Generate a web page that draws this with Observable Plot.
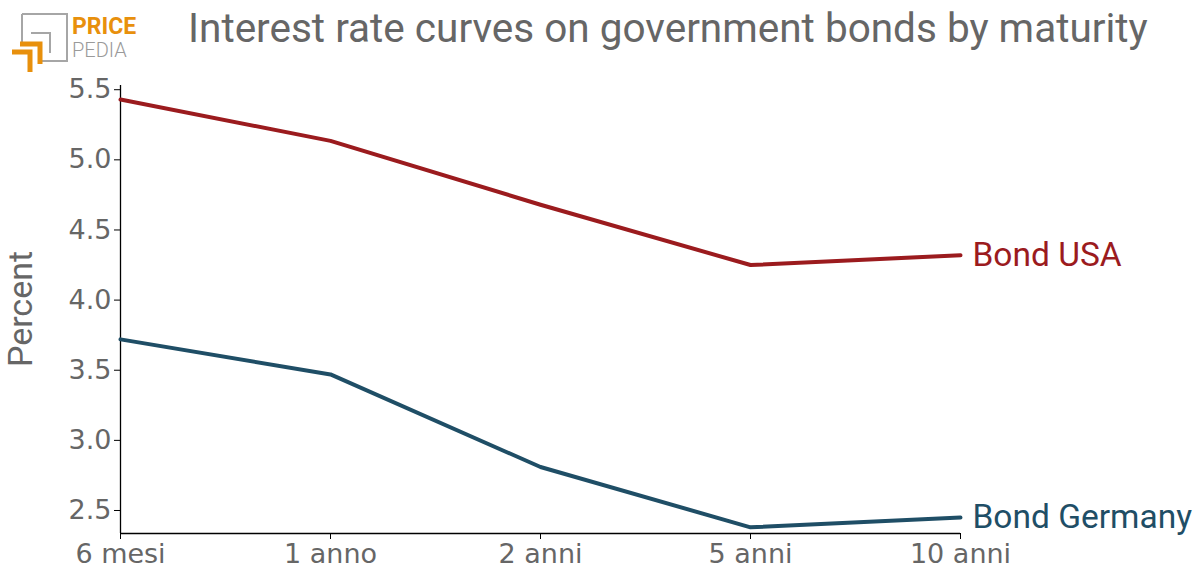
<!DOCTYPE html>
<html>
<head>
<meta charset="utf-8">
<script src="https://cdn.jsdelivr.net/npm/d3@7"></script>
<script src="https://cdn.jsdelivr.net/npm/@observablehq/plot@0.6"></script>
<style>
  html, body { margin: 0; padding: 0; background: #fff; }
  #wrap { position: relative; width: 1196px; height: 587px; overflow: hidden; }
  #title { position: absolute; left: 188px; top: 4px; font-family: Roboto, sans-serif; font-weight: 400; font-size: 40.5px; line-height: 48px; color: #666; white-space: nowrap; }
  #ylabel { position: absolute; left: 20px; top: 309px; font-family: Roboto, sans-serif; font-size: 34px; line-height: 1; color: #666; white-space: nowrap; transform: translate(-50%, -50%) rotate(-90deg); }
  #logo { position: absolute; left: 0; top: 0; }
  #chart { position: absolute; left: 0; top: 0; }
</style>
</head>
<body>
<div id="wrap">
  <div id="chart"></div>
  <svg id="logo" width="150" height="80">
    <polyline points="22,14 67,14 67,61 42,61" fill="none" stroke="#a6a6a6" stroke-width="2"/>
    <polyline points="22,14 22,42" fill="none" stroke="#a6a6a6" stroke-width="2"/>
    <polyline points="31,33 50,33 50,53" fill="none" stroke="#a6a6a6" stroke-width="2"/>
    <polyline points="12,52 30,52 30,72" fill="none" stroke="#e8900c" stroke-width="5"/>
    <polyline points="20,44 40,44 40,64" fill="none" stroke="#e8900c" stroke-width="5"/>
    <text x="72" y="33.5" font-family="Roboto, sans-serif" font-weight="bold" font-size="23" fill="#e8900c">PRICE</text>
    <text x="72" y="57" font-family="Roboto, sans-serif" font-weight="300" font-size="20" fill="#9a9a9a">PEDIA</text>
  </svg>
  <div id="title">Interest rate curves on government bonds by maturity</div>
  <div id="ylabel">Percent</div>
</div>
<script>
const maturities = ["6 mesi", "1 anno", "2 anni", "5 anni", "10 anni"];
const bondUSA = [5.43, 5.135, 4.68, 4.25, 4.32];
const bondGermany = [3.72, 3.47, 2.81, 2.38, 2.45];
const seriesNames = ["Bond USA", "Bond Germany"];
const seriesColors = ["#9b1b1e", "#1f4e66"];
const yTicks = [2.5, 3.0, 3.5, 4.0, 4.5, 5.0, 5.5];

const rows = [];
[bondUSA, bondGermany].forEach((vals, si) => {
  vals.forEach((v, i) => rows.push({series: seriesNames[si], maturity: maturities[i], value: v}));
});
const lastRows = rows.filter(d => d.maturity === maturities[maturities.length - 1]);

const yMin = 2.336, yMax = 5.53;

const plot = Plot.plot({
  width: 1196,
  height: 587,
  marginLeft: 120,
  marginRight: 236,
  marginTop: 85,
  marginBottom: 54,
  style: {fontFamily: "DejaVu Sans, sans-serif", background: "transparent", overflow: "visible"},
  x: {type: "point", domain: maturities, padding: 0},
  y: {domain: [yMin, yMax]},
  color: {domain: seriesNames, range: seriesColors},
  marks: [
    Plot.axisY({ticks: yTicks, tickFormat: d3.format(".1f"), tickSize: 6, tickPadding: 3, fontSize: 27, stroke: "black", fill: "#666", label: null}),
    Plot.axisX({tickSize: 6, tickPadding: 4, fontSize: 27, stroke: "black", fill: "#666", label: null}),
    Plot.ruleX([maturities[0]], {stroke: "black", strokeWidth: 1.3}),
    Plot.ruleY([yMin], {stroke: "black", strokeWidth: 1.3}),
    Plot.line(rows, {x: "maturity", y: "value", z: "series", stroke: "series", strokeWidth: 4}),
    Plot.text(lastRows, {x: "maturity", y: "value", text: "series", fill: "series", dx: 12, textAnchor: "start", fontSize: 33.5, fontFamily: "Roboto, sans-serif"})
  ]
});
document.getElementById("chart").appendChild(plot);
</script>
</body>
</html>
